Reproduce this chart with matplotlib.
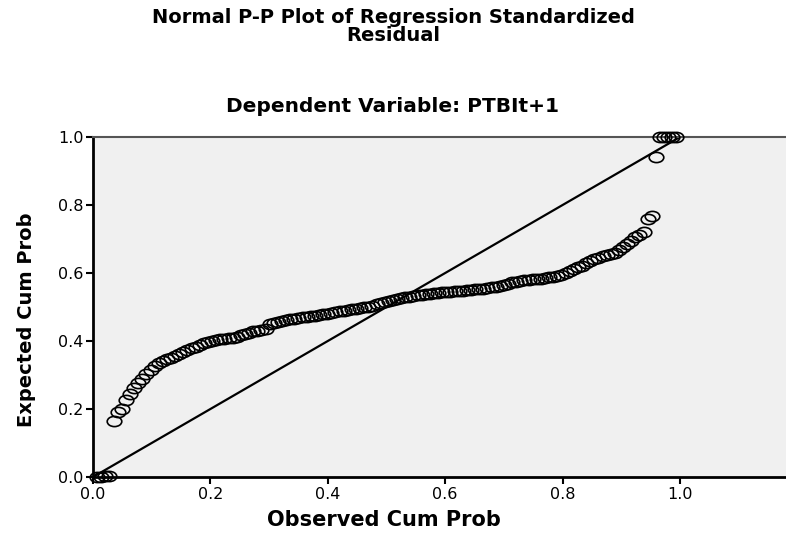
import numpy as np
import matplotlib
matplotlib.use("Agg")
import matplotlib.pyplot as plt
from matplotlib.path import Path

# observed cumulative probability (x) and expected cumulative probability (y)
obs_cum = [0.007, 0.014, 0.021, 0.028, 0.035, 0.042, 0.049, 0.056, 0.063, 0.070,
           0.077, 0.084, 0.091, 0.098, 0.105, 0.112, 0.119, 0.126, 0.133, 0.140,
           0.147, 0.154, 0.161, 0.168, 0.175, 0.182, 0.189, 0.196, 0.203, 0.210,
           0.217, 0.224, 0.231, 0.238, 0.245, 0.252, 0.259, 0.266, 0.273, 0.280,
           0.287, 0.294, 0.301, 0.308, 0.315, 0.322, 0.329, 0.336, 0.343, 0.350,
           0.357, 0.364, 0.371, 0.378, 0.385, 0.392, 0.399, 0.406, 0.413, 0.420,
           0.427, 0.434, 0.441, 0.448, 0.455, 0.462, 0.469, 0.476, 0.483, 0.490,
           0.497, 0.504, 0.511, 0.518, 0.525, 0.532, 0.539, 0.546, 0.553, 0.560,
           0.567, 0.574, 0.581, 0.588, 0.595, 0.602, 0.609, 0.616, 0.623, 0.630,
           0.637, 0.644, 0.651, 0.658, 0.665, 0.672, 0.679, 0.686, 0.693, 0.700,
           0.707, 0.714, 0.721, 0.728, 0.735, 0.742, 0.749, 0.756, 0.763, 0.770,
           0.777, 0.784, 0.791, 0.798, 0.805, 0.812, 0.819, 0.826, 0.833, 0.840,
           0.847, 0.854, 0.861, 0.868, 0.875, 0.882, 0.889, 0.896, 0.903, 0.910,
           0.917, 0.924, 0.931, 0.938, 0.945, 0.952, 0.959, 0.966, 0.973, 0.980,
           0.987, 0.994]
exp_cum = [0.000, 0.000, 0.003, 0.004, 0.165, 0.192, 0.200, 0.226, 0.245, 0.262,
           0.276, 0.288, 0.302, 0.316, 0.326, 0.334, 0.340, 0.346, 0.350, 0.356,
           0.362, 0.368, 0.374, 0.378, 0.383, 0.388, 0.393, 0.396, 0.399, 0.402,
           0.405, 0.407, 0.409, 0.410, 0.412, 0.418, 0.422, 0.425, 0.428, 0.430,
           0.432, 0.436, 0.449, 0.454, 0.457, 0.460, 0.462, 0.464, 0.466, 0.468,
           0.470, 0.471, 0.473, 0.475, 0.476, 0.478, 0.479, 0.482, 0.485, 0.487,
           0.489, 0.491, 0.493, 0.495, 0.497, 0.499, 0.501, 0.504, 0.509, 0.513,
           0.516, 0.519, 0.522, 0.524, 0.526, 0.528, 0.530, 0.532, 0.534, 0.535,
           0.537, 0.539, 0.540, 0.541, 0.543, 0.544, 0.545, 0.546, 0.547, 0.548,
           0.550, 0.551, 0.552, 0.553, 0.554, 0.556, 0.558, 0.560, 0.562, 0.565,
           0.569, 0.573, 0.575, 0.577, 0.578, 0.580, 0.581, 0.582, 0.583, 0.585,
           0.587, 0.589, 0.591, 0.594, 0.600, 0.606, 0.612, 0.617, 0.622, 0.628,
           0.634, 0.640, 0.645, 0.649, 0.652, 0.655, 0.660, 0.668, 0.676, 0.685,
           0.695, 0.706, 0.713, 0.720, 0.760, 0.768, 0.940, 0.999, 1.000, 1.000,
           1.000, 1.000]

ticks = [0.0, 0.2, 0.4, 0.6, 0.8, 1.0]
tick_labels = ["0.0", "0.2", "0.4", "0.6", "0.8", "1.0"]

# oval marker, the chart is drawn a bit wide
circ = Path.unit_circle()
oval = Path(circ.vertices * np.array([1.0, 0.7]), circ.codes)

fig = plt.figure(figsize=(7.86, 5.35), dpi=100)
ax = fig.add_axes([0.1183, 0.1084, 0.8817, 0.6355])
ax.set_facecolor("#f0f0f0")

ax.plot([0, 1], [0, 1], color="black", lw=1.6, zorder=2)
ax.plot(obs_cum, exp_cum, linestyle="none", marker=oval, markersize=10.5,
        markerfacecolor="none", markeredgecolor="black", markeredgewidth=1.2,
        clip_on=False, zorder=3)

ax.set_xlim(0, 1.1806)
ax.set_ylim(0, 1)
ax.set_xticks(ticks)
ax.set_xticklabels(tick_labels)
ax.set_yticks(ticks)
ax.set_yticklabels(tick_labels)
ax.tick_params(direction="out", length=5, width=1.5, labelsize=11.5, pad=2)

for s in ["left", "bottom"]:
    ax.spines[s].set_linewidth(2)
    ax.spines[s].set_color("black")
ax.spines["top"].set_color("#555555")
ax.spines["top"].set_linewidth(1.5)
ax.spines["right"].set_visible(False)

fig.text(0.5, 0.985, "Normal P-P Plot of Regression Standardized\nResidual",
         ha="center", va="top", fontsize=14, fontweight="bold", linespacing=0.95)
fig.text(0.5, 0.80, "Dependent Variable: PTBIt+1", ha="center", va="center",
         fontsize=14.5, fontweight="bold")
fig.text(0.489, 0.028, "Observed Cum Prob", ha="center", va="center",
         fontsize=15, fontweight="bold")
fig.text(0.034, 0.402, "Expected Cum Prob", ha="center", va="center",
         rotation=90, fontsize=14, fontweight="bold")

fig.savefig("out.png", dpi=100)
